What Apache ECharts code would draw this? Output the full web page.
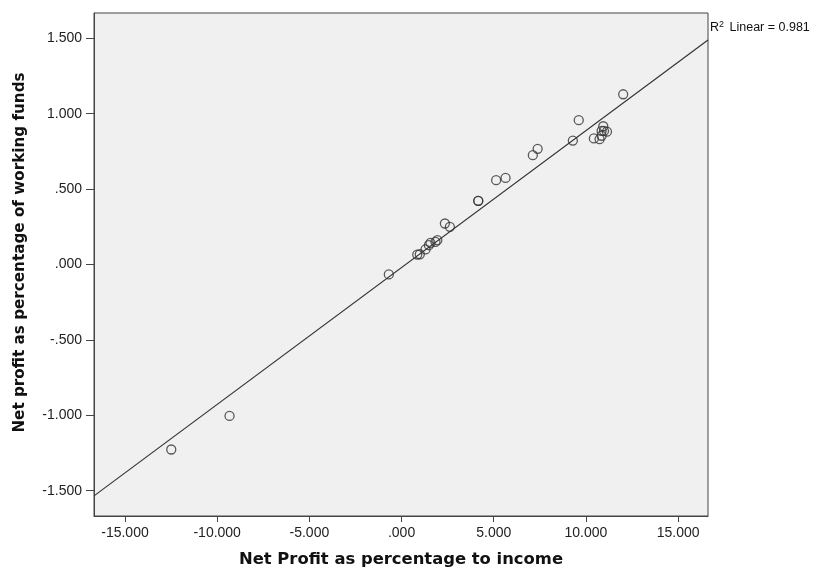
<!DOCTYPE html>
<html>
  <head>
    <meta charset="utf-8" />
    <title>Net profit scatter</title>
    <script src="https://cdn.jsdelivr.net/npm/echarts@6/dist/echarts.min.js"></script>
  </head>
  <body style="margin: 0; background: #fff;">
    <div id="main" style="width: 821px; height: 569px;"></div>
  </body>
  <script>
    // x: net profit as % of income, y: net profit as % of working funds
    var xVals = [-12.49, -9.33, -0.69, 0.85, 0.99, 1.30, 1.48, 1.57, 1.84, 1.94,
      2.35, 2.62, 4.16, 4.16, 5.13, 5.64, 7.12, 7.38, 9.29, 9.61, 12.02,
      10.94, 10.85, 10.98, 11.14, 10.43, 10.74, 10.85]
    var yVals = [-1.227, -1.004, -0.066, 0.066, 0.068, 0.100, 0.128, 0.143, 0.150, 0.161,
      0.272, 0.250, 0.422, 0.422, 0.559, 0.574, 0.725, 0.767, 0.822, 0.957, 1.129,
      0.917, 0.886, 0.886, 0.881, 0.836, 0.831, 0.854]
    var xTicks = [-15, -10, -5, 0, 5, 10, 15]
    var yTicks = [-1.5, -1, -0.5, 0, 0.5, 1, 1.5]
    var fitSlope = 0.0908
    var fitIntercept = -0.02
    var xRange = [-16.68, 16.62]
    var yRange = [-1.668, 1.668]

    function spssFmt(v) {
      return v.toFixed(3).replace(/^(-?)0\./, '$1.')
    }

    var points = []
    for (var i = 0; i < xVals.length; i++) {
      points.push([xVals[i], yVals[i]])
    }
    var fitLine = [
      [xRange[0], fitIntercept + fitSlope * xRange[0]],
      [xRange[1], fitIntercept + fitSlope * xRange[1]]
    ]

    var labelStyle = { color: '#222', fontFamily: 'Liberation Sans', fontSize: 14 }

    var myChart = echarts.init(document.getElementById('main'))
    var option = {
      animation: false,
      grid: {
        left: 94, top: 13, right: 113, bottom: 53,
        outerBoundsMode: 'none',
        containLabel: false,
        show: true, backgroundColor: '#f0f0f0', borderColor: '#444', borderWidth: 1
      },
      xAxis: {
        type: 'value',
        min: xRange[0], max: xRange[1],
        name: 'Net Profit as percentage to income',
        nameLocation: 'middle', nameGap: 36,
        nameTextStyle: { color: '#111', fontFamily: 'DejaVu Sans', fontWeight: 'bold', fontSize: 16.4 },
        axisLine: { show: true, onZero: false, lineStyle: { color: '#444' } },
        axisTick: { show: true, length: 6, customValues: xTicks, lineStyle: { color: '#444' } },
        axisLabel: Object.assign({ customValues: xTicks, formatter: spssFmt, margin: 10 }, labelStyle),
        splitLine: { show: false }
      },
      yAxis: {
        type: 'value',
        min: yRange[0], max: yRange[1],
        name: 'Net profit as percentage of working funds',
        nameLocation: 'middle', nameGap: 66,
        nameTextStyle: {
          color: '#111', fontFamily: 'DejaVu Sans', fontWeight: 'bold', fontSize: 15.2,
          padding: [0, 0, 0, 24]
        },
        axisLine: { show: true, onZero: false, lineStyle: { color: '#444' } },
        axisTick: { show: true, length: 8, customValues: yTicks, lineStyle: { color: '#444' } },
        axisLabel: Object.assign({ customValues: yTicks, formatter: spssFmt, margin: 12 }, labelStyle),
        splitLine: { show: false }
      },
      series: [
        {
          type: 'line',
          data: fitLine,
          symbol: 'none',
          clip: true,
          lineStyle: { color: '#333', width: 1.2 }
        },
        {
          type: 'scatter',
          data: points,
          symbol: 'circle',
          symbolSize: 9,
          itemStyle: { color: 'rgba(0,0,0,0)', borderColor: '#333', borderWidth: 1.3 }
        }
      ],
      graphic: [
        {
          type: 'text',
          left: 710, top: 20,
          style: {
            text: 'R{sup|2} Linear = 0.981',
            fill: '#111',
            fontFamily: 'Liberation Sans',
            fontSize: 12.5,
            rich: { sup: { fontSize: 9, verticalAlign: 'top', padding: [0, 2, 6, 0], fontFamily: 'Liberation Sans' } }
          }
        }
      ]
    }
    option && myChart.setOption(option)
  </script>
</html>
